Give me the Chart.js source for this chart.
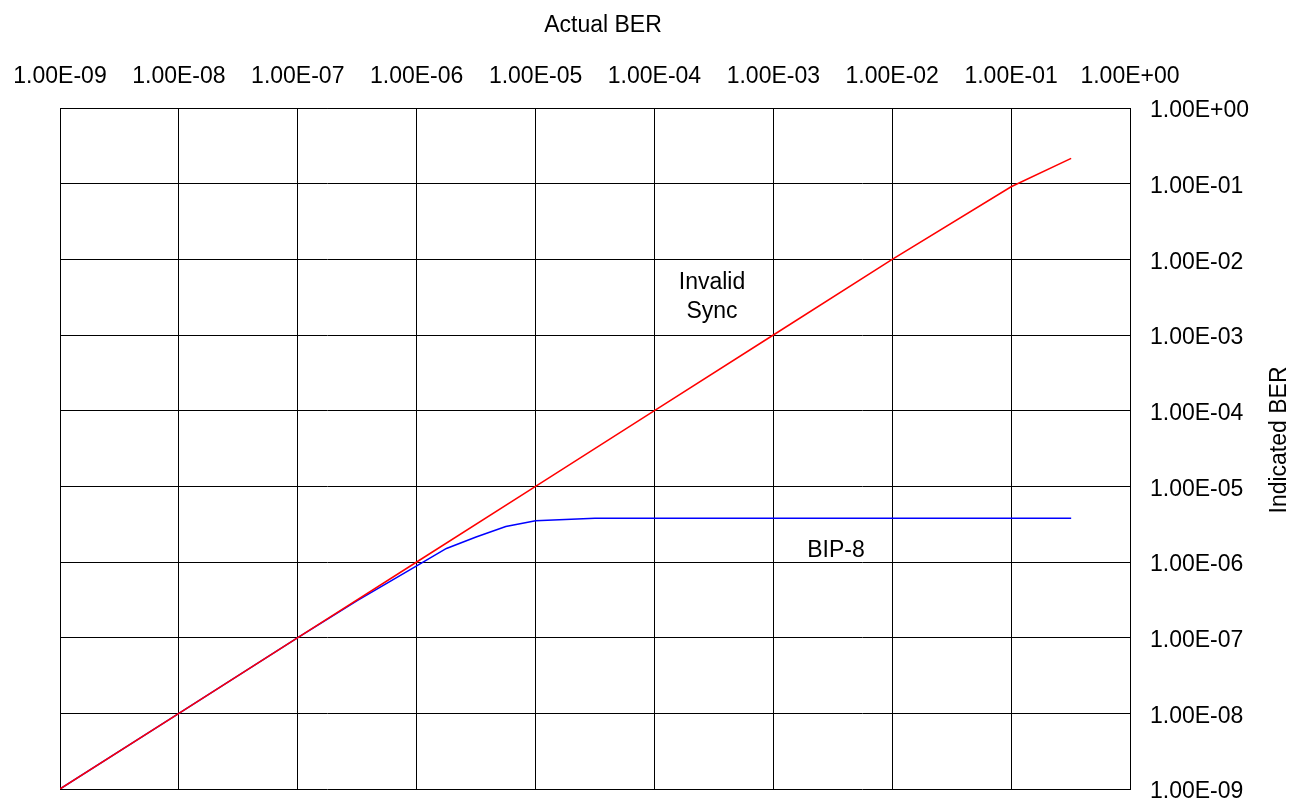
<!DOCTYPE html>
<html>
<head>
<meta charset="utf-8">
<script src="https://cdn.jsdelivr.net/npm/chart.js@4.4.1/dist/chart.umd.min.js"></script>
<style>
html,body{margin:0;padding:0;background:#fff;}
#wrap{width:1289px;height:799px;}
</style>
</head>
<body>
<div id="wrap"><canvas id="c" width="1289" height="799"></canvas></div>
<script>
// ---- data ----
const tickValues = [1e-9, 1e-8, 1e-7, 1e-6, 1e-5, 1e-4, 1e-3, 1e-2, 1e-1, 1e0];
const tickLabels = ['1.00E-09','1.00E-08','1.00E-07','1.00E-06','1.00E-05','1.00E-04','1.00E-03','1.00E-02','1.00E-01','1.00E+00'];

const syncActual    = [1e-9, 1e-8, 1e-7, 1e-6, 1e-5, 1e-4, 1e-3, 1e-2, 1e-1, 3.2e-1];
const syncIndicated = [1e-9, 1e-8, 1e-7, 1e-6, 1e-5, 1e-4, 1e-3, 1e-2, 0.091, 0.216];

const bipActual    = [1e-9, 1e-8, 1e-7, 3.16e-7, 1e-6, 1.78e-6, 3.16e-6, 5.62e-6, 1e-5, 3.16e-5, 1e-4, 1e-3, 1e-2, 1e-1, 3.2e-1];
const bipIndicated = [1e-9, 1e-8, 1e-7, 3.09e-7, 8.9e-7, 1.51e-6, 2.14e-6, 2.95e-6, 3.52e-6, 3.79e-6, 3.8e-6, 3.8e-6, 3.8e-6, 3.8e-6, 3.8e-6];

const seriesLabels = ['Invalid Sync', 'BIP-8'];
const xTitle = 'Actual BER';
const yTitle = 'Indicated BER';
// annotation anchors (data units)
const syncNote = {x: 3.05e-4, y: 3.13e-3, lines: ['Invalid', 'Sync']};
const bipNote  = {x: 3.36e-3, y: 1.40e-6, lines: ['BIP-8']};

const FAMILY = '"Liberation Sans", Arial, sans-serif';
const FSIZE = 23;

function toPoints(xs, ys){ return xs.map((x,i)=>({x:x, y:ys[i]})); }

const textPlugin = {
  id: 'texts',
  afterDraw(chart){
    const ctx = chart.ctx;
    const xs = chart.scales.x, ys = chart.scales.y;
    ctx.save();
    ctx.fillStyle = '#000';
    ctx.font = FSIZE + 'px ' + FAMILY;
    ctx.textAlign = 'center';
    ctx.textBaseline = 'middle';
    // axis titles
    ctx.fillText(xTitle, 603, 26);
    ctx.save();
    ctx.translate(1280, 440);
    ctx.rotate(-Math.PI/2);
    ctx.fillText(yTitle, 0, 0);
    ctx.restore();
    // annotations
    [syncNote, bipNote].forEach(n=>{
      const px = xs.getPixelForValue(n.x), py = ys.getPixelForValue(n.y);
      const lh = 29;
      const start = py - (n.lines.length-1)*lh/2;
      n.lines.forEach((t,i)=>ctx.fillText(t, px, start + i*lh));
    });
    ctx.restore();
  }
};

function setTicks(scale){ scale.ticks = tickValues.map(v=>({value:v})); }
function noPad(s){ s.paddingLeft = 0; s.paddingRight = 0; s.paddingTop = 0; s.paddingBottom = 0; }

new Chart(document.getElementById('c'), {
  type: 'scatter',
  data: {
    datasets: [
      {label: seriesLabels[0], data: toPoints(syncActual, syncIndicated), showLine: true,
       borderColor: '#ff0000', backgroundColor: '#ff0000', borderWidth: 1.5, pointRadius: 0, tension: 0},
      {label: seriesLabels[1], data: toPoints(bipActual, bipIndicated), showLine: true,
       borderColor: '#0000ff', backgroundColor: '#0000ff', borderWidth: 1.5, pointRadius: 0, tension: 0}
    ]
  },
  options: {
    responsive: false,
    animation: false,
    devicePixelRatio: 1,
    layout: {padding: {left: 60, right: 0, top: 0, bottom: 10}},
    plugins: {legend: {display: false}, tooltip: {enabled: false}},
    scales: {
      x: {
        type: 'logarithmic', position: 'top', min: 1e-9, max: 1,
        afterBuildTicks: setTicks,
        afterFit: s => { s.height = 108; noPad(s); },
        grid: {color: '#000', lineWidth: 1, drawTicks: false},
        border: {display: true, color: '#000', width: 1},
        ticks: {autoSkip: false, maxRotation: 0, minRotation: 0, padding: 18, color: '#000',
                font: {family: FAMILY, size: FSIZE},
                callback: (v, i) => tickLabels[i]}
      },
      y: {
        type: 'logarithmic', position: 'right', min: 1e-9, max: 1,
        afterBuildTicks: setTicks,
        afterFit: s => { s.width = 159; noPad(s); },
        grid: {color: '#000', lineWidth: 1, drawTicks: false},
        border: {display: true, color: '#000', width: 1},
        ticks: {autoSkip: false, padding: 20, labelOffset: 3, color: '#000',
                font: {family: FAMILY, size: FSIZE},
                callback: (v, i) => tickLabels[i]}
      }
    }
  },
  plugins: [textPlugin]
});
</script>
</body>
</html>
